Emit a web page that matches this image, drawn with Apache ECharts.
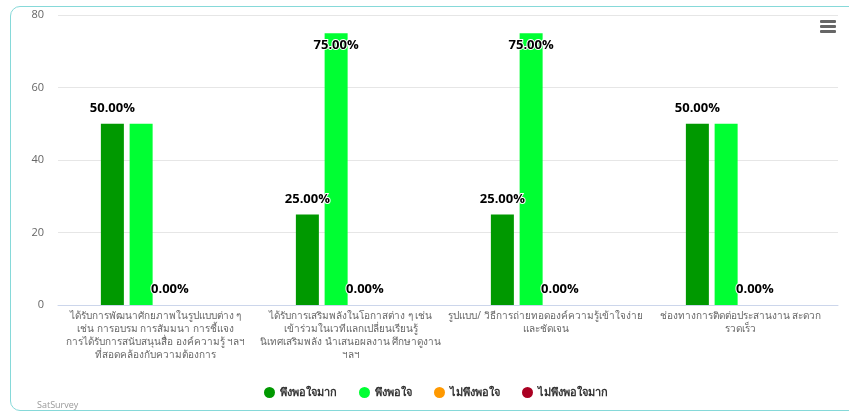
<!DOCTYPE html>
<html>
<head>
<meta charset="utf-8">
<script src="https://cdn.jsdelivr.net/npm/echarts@6/dist/echarts.min.js"></script>
<style>
  html, body { margin: 0; padding: 0; background: #fff; overflow: hidden; }
  .frame {
    position: absolute; left: 10px; top: 6px; width: 870px; height: 405px;
    border: 1.5px solid #86d9d9; border-radius: 10px; box-sizing: border-box;
  }
  #chart { position: absolute; left: 0; top: 0; width: 849px; height: 415px; }
</style>
</head>
<body>
<div class="frame"></div>
<div id="chart"></div>
<script>
  // หมวดคำถาม (แบ่งบรรทัดตามภาพ)
  const categories = [
    'ได้รับการพัฒนาศักยภาพในรูปแบบต่าง ๆ\nเช่น การอบรม การสัมมนา การชี้แจง\nการได้รับการสนับสนุนสื่อ องค์ความรู้ ฯลฯ\nที่สอดคล้องกับความต้องการ',
    'ได้รับการเสริมพลังในโอกาสต่าง ๆ เช่น\nเข้าร่วมในเวทีแลกเปลี่ยนเรียนรู้\nนิเทศเสริมพลัง นำเสนอผลงาน ศึกษาดูงาน\nฯลฯ',
    'รูปแบบ/ วิธีการถ่ายทอดองค์ความรู้เข้าใจง่าย\nและชัดเจน',
    'ช่องทางการติดต่อประสานงาน สะดวก\nรวดเร็ว'
  ];
  const seriesNames = ['พึงพอใจมาก', 'พึงพอใจ', 'ไม่พึงพอใจ', 'ไม่พึงพอใจมาก'];
  const verySatisfied = [50, 25, 25, 50];
  const satisfied = [50, 75, 75, 50];
  const unsatisfied = [0, 0, 0, 0];
  const veryUnsatisfied = [0, 0, 0, 0];
  const yTicks = [0, 20, 40, 60, 80];

  const colors = ['#009900', '#00ff33', '#ff9900', '#aa0022'];
  const labelFont = '"Open Sans", "Noto Sans", sans-serif';

  const chart = echarts.init(document.getElementById('chart'));

  function makeSeries(name, values, color) {
    return {
      name: name,
      type: 'bar',
      barWidth: 23,
      barGap: '25%',
      itemStyle: { color: color },
      label: {
        show: true,
        position: 'top',
        distance: 9,
        fontSize: 13,
        fontWeight: 'bold',
        fontFamily: labelFont,
        color: '#000',
        textBorderColor: '#fff',
        textBorderWidth: 2,
        formatter: (p) => p.value.toFixed(2) + '%'
      },
      labelLayout: { hideOverlap: true },
      // ป้ายที่ล้นขอบบนให้ไปอยู่ด้านในแท่ง
      data: values.map(v => v > 70
        ? { value: v, label: { position: 'insideTop', distance: 6 } }
        : v),
      emphasis: { disabled: true }
    };
  }

  chart.setOption({
    animation: false,
    color: colors,
    grid: { left: 58, right: 11, top: 15, bottom: 110 },
    legend: {
      data: seriesNames,
      left: 259,
      top: 382,
      icon: 'circle',
      itemWidth: 11,
      itemHeight: 11,
      itemGap: 22,
      textStyle: { color: '#333', fontSize: 11, fontWeight: 'bold', fontFamily: labelFont }
    },
    xAxis: {
      type: 'category',
      data: categories,
      axisLine: { show: true, lineStyle: { color: '#ccd6eb' } },
      axisTick: { show: false },
      axisLabel: {
        interval: 0,
        color: '#666',
        fontSize: 10,
        lineHeight: 13,
        margin: 5,
        fontFamily: labelFont
      }
    },
    yAxis: {
      type: 'value',
      min: yTicks[0],
      max: yTicks[yTicks.length - 1],
      interval: 20,
      axisLine: { show: false },
      axisTick: { show: false },
      splitLine: { lineStyle: { color: '#e6e6e6' } },
      axisLabel: { color: '#666', fontSize: 11, margin: 14, fontFamily: labelFont }
    },
    graphic: [
      {
        type: 'text', left: 37, top: 401,
        style: { text: 'SatSurvey', fill: '#999', fontSize: 9, fontFamily: labelFont }
      },
      // ไอคอนเมนู
      { type: 'rect', left: 820, top: 20, shape: { width: 16, height: 3, r: 1 }, style: { fill: '#666' } },
      { type: 'rect', left: 820, top: 25, shape: { width: 16, height: 3, r: 1 }, style: { fill: '#666' } },
      { type: 'rect', left: 820, top: 30, shape: { width: 16, height: 3, r: 1 }, style: { fill: '#666' } }
    ],
    series: [
      makeSeries(seriesNames[0], verySatisfied, colors[0]),
      makeSeries(seriesNames[1], satisfied, colors[1]),
      makeSeries(seriesNames[2], unsatisfied, colors[2]),
      makeSeries(seriesNames[3], veryUnsatisfied, colors[3])
    ]
  });
</script>
</body>
</html>
